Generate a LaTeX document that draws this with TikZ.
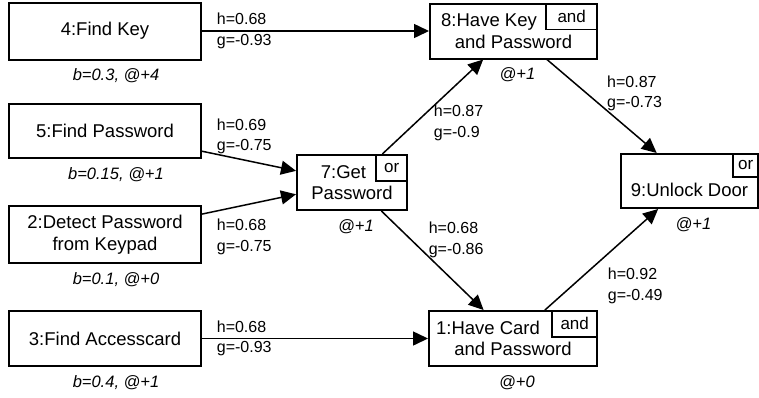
\documentclass[tikz,border=0pt]{standalone}
\usepackage{fontspec}
\setmainfont{Liberation Sans}
\usetikzlibrary{arrows.meta}
\usetikzlibrary{positioning}

\tikzset{
    task/.style={draw, rectangle, line width=2pt, align=center, inner sep=2pt,
        font=\fontsize{18.5}{21.5}\selectfont},
    gate/.style={draw, rectangle, line width=1.6pt, anchor=north east, minimum height=26pt, inner sep=0pt,
        font=\fontsize{17}{20}\selectfont},
    annot/.style={inner sep=0pt, xshift=4pt, yshift=-8pt, font=\fontsize{16.5}{19}\selectfont\itshape},
    hg/.style={align=left, inner sep=1pt, anchor=west, font=\fontsize{16}{20.5}\selectfont},
    link/.style={-{Triangle[length=15pt, width=14pt]}, line width=1.5pt},
}

\begin{document}
\begin{tikzpicture}[x=1pt, y=-1pt]
    \useasboundingbox (0,0) rectangle (759,397);

    % leaves
    \node[task, minimum width=192pt, minimum height=57pt, label={[annot, xshift=7pt]below:{b=0.3, @+4}}] (n4) at (105,31) {4:Find Key};
    \node[task, minimum width=192pt, minimum height=54pt, label={[annot, xshift=7pt]below:{b=0.15, @+1}}] (n5) at (105,131) {5:Find Password};
    \node[task, minimum width=192pt, minimum height=57pt, label={[annot, xshift=7pt]below:{b=0.1, @+0}}] (n2) at (105,234.5) {2:Detect Password\\from Keypad};
    \node[task, minimum width=192pt, minimum height=55pt, label={[annot, xshift=7pt]below:{b=0.4, @+1}}] (n3) at (105,338.5) {3:Find Accesscard};

    % inner nodes
    \node[task, minimum width=110pt, minimum height=55pt, label={[annot]below:{@+1}}] (n7) at (352,182.5) {7:Get\hspace*{17pt}\\Password};
    \node[task, minimum width=167pt, minimum height=55pt, label={[annot]below:{@+1}}] (n8) at (513.5,31) {8:Have Key\hspace*{49pt}\\and Password};
    \node[task, minimum width=168pt, minimum height=55pt, label={[annot]below:{@+0}}] (n1) at (513,338.5) {1:Have Card\hspace*{50pt}\\and Password};
    \node[task, minimum width=137pt, minimum height=54pt, label={[annot]below:{@+1}}] (n9) at (689.5,181) {\rule{0pt}{10pt}\\9:Unlock Door};

    \node[gate, minimum width=31pt] (g7) at (n7.north east) {or};
    \node[gate, minimum width=51pt] (g8) at (n8.north east) {and};
    \node[gate, minimum width=45pt] (g1) at (n1.north east) {and};
    \node[gate, minimum width=25pt, minimum height=23pt] (g9) at (n9.north east) {or};

    \draw[link] (n4) -- node[hg, pos=0.058] {h=0.68\\g=-0.93} (n8);
    \draw[link] (n5) -- node[hg, pos=0.14, yshift=17.5pt] {h=0.69\\g=-0.75} (n7);
    \draw[link] (n2) -- node[hg, pos=0.14, yshift=-25.5pt] {h=0.68\\g=-0.75} (n7);
    \draw[link] (n3) -- node[hg, pos=0.058] {h=0.68\\g=-0.93} (n1);

    \draw[link] (n7) -- node[hg, pos=0.33, xshift=16.5pt] {h=0.87\\g=-0.9} (n8);
    \draw[link] (n7) -- node[hg, pos=0.29, xshift=16pt] {h=0.68\\g=-0.86} (n1);
    \draw[link] (n8) -- node[hg, pos=0.36, xshift=19pt] {h=0.87\\g=-0.73} (n9);
    \draw[link] (n1) -- node[hg, pos=0.24, xshift=34pt] {h=0.92\\g=-0.49} (n9);
\end{tikzpicture}
\end{document}
